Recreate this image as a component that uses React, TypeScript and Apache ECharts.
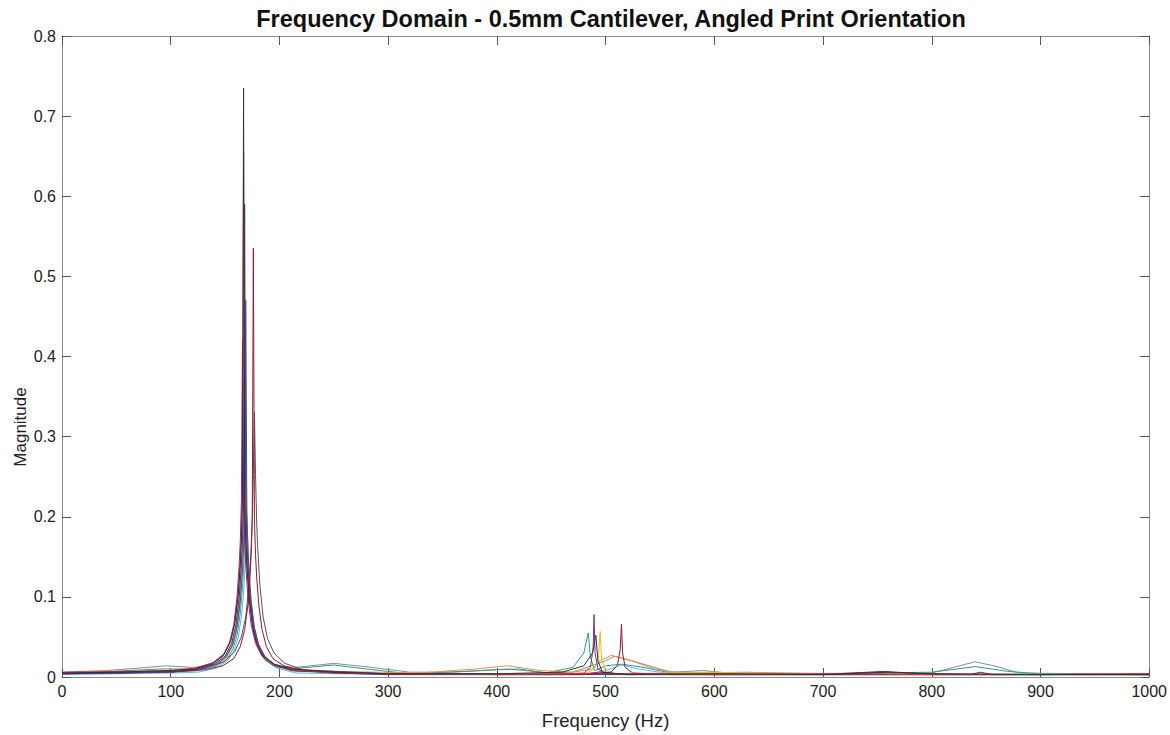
import React, { useEffect, useRef } from "react";
import * as echarts from "echarts";

const TITLE = "Frequency Domain - 0.5mm Cantilever, Angled Print Orientation";
const X_NAME = "Frequency (Hz)";
const Y_NAME = "Magnitude";
const X_TICKS = [0, 100, 200, 300, 400, 500, 600, 700, 800, 900, 1000];
const Y_TICKS = [0, 0.1, 0.2, 0.3, 0.4, 0.5, 0.6, 0.7, 0.8];

// [frequency Hz, magnitude]
const sBlack = [[0,0.005],[50,0.006],[100,0.008],[122,0.01],[139,0.017],[149,0.028],[155,0.044],[159,0.067],[162,0.1],[164,0.14],[165,0.17],[166,0.22],[167,0.735],[168,0.22],[169,0.17],[170,0.14],[172,0.1],[175,0.065],[179,0.042],[185,0.026],[195,0.016],[212,0.01],[250,0.006],[300,0.004],[400,0.004],[460,0.006],[480,0.014],[488,0.03],[491,0.052],[493,0.02],[497,0.006],[520,0.003],[600,0.004],[700,0.003],[760,0.006],[800,0.004],[900,0.003],[1000,0.003]];
const sRed = [[0,0.006],[60,0.007],[100,0.008],[122,0.011],[139,0.018],[149,0.029],[155,0.046],[159,0.07],[162,0.105],[164,0.147],[165,0.179],[166,0.231],[167,0.657],[168,0.231],[169,0.179],[170,0.147],[172,0.105],[175,0.068],[179,0.044],[185,0.027],[195,0.016],[212,0.009],[250,0.005],[300,0.004],[400,0.003],[480,0.004],[494,0.006],[510,0.004],[600,0.003],[700,0.004],[800,0.003],[900,0.003],[1000,0.004]];
const sBlue = [[0,0.004],[60,0.005],[100,0.007],[123,0.009],[140,0.016],[150,0.026],[156,0.042],[160,0.065],[163,0.1],[165,0.14],[166,0.17],[167,0.22],[168,0.59],[169,0.22],[170,0.17],[171,0.14],[173,0.1],[176,0.065],[180,0.042],[186,0.026],[196,0.015],[213,0.008],[250,0.005],[300,0.003],[400,0.003],[480,0.003],[490,0.004],[520,0.003],[600,0.003],[800,0.003],[1000,0.003]];
const sBlue2 = [[0,0.004],[100,0.006],[124,0.008],[141,0.015],[151,0.025],[157,0.04],[161,0.062],[164,0.095],[166,0.133],[167,0.162],[168,0.209],[169,0.47],[170,0.209],[171,0.162],[172,0.133],[174,0.095],[177,0.062],[181,0.04],[187,0.025],[197,0.014],[214,0.008],[300,0.004],[500,0.003],[1000,0.003]];
const sPurple = [[0,0.005],[100,0.006],[121,0.009],[138,0.016],[148,0.026],[154,0.042],[158,0.065],[161,0.1],[163,0.14],[164,0.17],[165,0.22],[166,0.42],[167,0.22],[168,0.17],[169,0.14],[171,0.1],[174,0.065],[178,0.042],[184,0.026],[194,0.015],[211,0.008],[300,0.004],[450,0.003],[480,0.005],[486,0.012],[488.5,0.035],[489.4,0.078],[490.3,0.03],[493,0.01],[500,0.004],[600,0.003],[1000,0.003]];
const sGray = [[0,0.006],[40,0.008],[70,0.011],[95,0.014],[120,0.012],[140,0.014],[150,0.023],[156,0.038],[160,0.059],[163,0.09],[165,0.126],[166,0.153],[167,0.198],[168,0.45],[169,0.198],[170,0.153],[171,0.126],[173,0.09],[176,0.059],[180,0.038],[186,0.023],[196,0.014],[215,0.012],[250,0.017],[285,0.012],[320,0.006],[360,0.006],[410,0.01],[450,0.005],[470,0.006],[500,0.02],[508,0.026],[530,0.018],[560,0.006],[590,0.008],[620,0.004],[700,0.004],[760,0.006],[800,0.005],[820,0.012],[840,0.019],[860,0.013],[880,0.005],[940,0.004],[1000,0.003]];
const sYellow = [[0,0.004],[100,0.006],[124,0.008],[141,0.014],[151,0.023],[157,0.038],[161,0.059],[164,0.09],[166,0.126],[167,0.153],[168,0.198],[169,0.37],[170,0.198],[171,0.153],[172,0.126],[174,0.09],[177,0.059],[181,0.038],[187,0.023],[197,0.013],[214,0.007],[300,0.004],[400,0.003],[480,0.004],[490,0.01],[493.5,0.025],[495,0.057],[496.3,0.022],[500,0.008],[510,0.004],[600,0.006],[640,0.004],[700,0.003],[1000,0.003]];
const sOrange = [[0,0.005],[100,0.008],[123,0.01],[140,0.016],[150,0.025],[156,0.04],[160,0.062],[163,0.095],[165,0.133],[166,0.162],[167,0.209],[168,0.3],[169,0.209],[170,0.162],[171,0.133],[173,0.095],[176,0.062],[180,0.04],[186,0.025],[196,0.014],[213,0.009],[250,0.007],[330,0.005],[380,0.01],[410,0.014],[440,0.008],[470,0.006],[488,0.01],[495,0.02],[505,0.027],[520,0.022],[545,0.01],[570,0.005],[630,0.006],[700,0.004],[1000,0.003]];
const sTeal = [[0,0.004],[90,0.01],[124,0.01],[141,0.013],[151,0.021],[157,0.034],[161,0.052],[164,0.08],[166,0.112],[167,0.136],[168,0.176],[169,0.24],[170,0.176],[171,0.136],[172,0.112],[174,0.08],[177,0.052],[181,0.034],[187,0.021],[197,0.012],[210,0.01],[250,0.015],[280,0.01],[320,0.004],[400,0.009],[420,0.01],[445,0.005],[470,0.012],[480,0.03],[484,0.055],[486,0.025],[490,0.008],[500,0.014],[515,0.016],[535,0.012],[560,0.005],[600,0.005],[700,0.004],[800,0.006],[840,0.013],[870,0.007],[900,0.004],[1000,0.003]];
const sCyan = [[0,0.003],[100,0.005],[125,0.006],[142,0.011],[152,0.02],[158,0.032],[162,0.049],[165,0.075],[167,0.105],[168,0.128],[169,0.165],[170,0.2],[171,0.165],[172,0.128],[173,0.105],[175,0.075],[178,0.049],[182,0.032],[188,0.02],[198,0.011],[215,0.005],[300,0.003],[480,0.003],[500,0.008],[515,0.015],[530,0.01],[560,0.004],[620,0.005],[1000,0.003]];
const sMaroon = [[0,0.005],[60,0.006],[100,0.007],[131,0.009],[148,0.014],[158,0.023],[164,0.038],[168,0.059],[171,0.09],[173,0.126],[174,0.153],[175,0.198],[176,0.535],[177,0.198],[178,0.153],[179,0.126],[181,0.09],[184,0.059],[188,0.038],[194,0.023],[204,0.014],[221,0.008],[260,0.005],[300,0.004],[400,0.003],[480,0.003],[505,0.006],[511,0.015],[513.5,0.035],[514.6,0.066],[515.6,0.03],[518,0.012],[525,0.005],[560,0.003],[600,0.003],[700,0.003],[755,0.007],[790,0.004],[835,0.003],[845,0.006],[855,0.003],[900,0.003],[1000,0.004]];
const sDark = [[0,0.004],[100,0.006],[132,0.011],[149,0.019],[159,0.032],[165,0.05],[169,0.075],[172,0.115],[174,0.161],[175,0.196],[176,0.253],[177,0.33],[178,0.253],[179,0.196],[180,0.161],[182,0.115],[185,0.075],[189,0.048],[195,0.03],[205,0.017],[222,0.009],[300,0.004],[1000,0.003]];

const SERIES = [
  { name: "s1", data: sGray, color: "#8c8c8c" },
  { name: "s2", data: sCyan, color: "#4dbeee" },
  { name: "s3", data: sTeal, color: "#2a9d8f" },
  { name: "s4", data: sOrange, color: "#e8904a" },
  { name: "s5", data: sYellow, color: "#e3c21d" },
  { name: "s6", data: sDark, color: "#555555" },
  { name: "s7", data: sBlue2, color: "#3a52b0" },
  { name: "s8", data: sPurple, color: "#7e2f8e" },
  { name: "s9", data: sBlue, color: "#3a3d9c" },
  { name: "s10", data: sMaroon, color: "#8e1a33" },
  { name: "s11", data: sRed, color: "#e3262a" },
  { name: "s12", data: sBlack, color: "#333333" },
];

const FONT = "Liberation Sans, Arial, sans-serif";

export default function App() {
  const ref = useRef<HTMLDivElement>(null);
  useEffect(() => {
    const chart = echarts.init(ref.current!, null, { renderer: "svg" });
    const axisLine = { show: true, onZero: false, lineStyle: { color: "#8a8a8a", width: 1 } };
    const tick = { show: true, inside: true, length: 9, lineStyle: { color: "#555" } };
    chart.setOption({
      animation: false,
      backgroundColor: "#ffffff",
      title: {
        text: TITLE,
        left: 606,
        top: 2,
        textAlign: "center",
        textStyle: { fontFamily: FONT, fontWeight: "bold", fontSize: 23.5, color: "#111" },
      },
      graphic: [
        {
          type: "text",
          x: 20,
          y: 427,
          rotation: Math.PI / 2,
          style: {
            text: Y_NAME,
            fontFamily: FONT,
            fontSize: 17,
            fill: "#222",
            textAlign: "center",
            textVerticalAlign: "middle",
          },
        },
      ],
      grid: { left: 62, right: 19, top: 36, bottom: 58, containLabel: false },
      xAxis: [
        {
          type: "value",
          min: 0,
          max: 1000,
          interval: 100,
          name: X_NAME,
          nameLocation: "middle",
          nameGap: 34,
          nameTextStyle: { fontFamily: FONT, fontSize: 18.5, color: "#222" },
          axisLine,
          axisTick: tick,
          axisLabel: { fontFamily: FONT, fontSize: 16, color: "#222", margin: 6,
            formatter: (v: number) => (X_TICKS.includes(v) ? String(v) : "") },
          splitLine: { show: false },
        },
        {
          type: "value",
          position: "top",
          min: 0,
          max: 1000,
          interval: 100,
          axisLine,
          axisTick: tick,
          axisLabel: { show: false },
          splitLine: { show: false },
        },
      ],
      yAxis: [
        {
          type: "value",
          min: 0,
          max: 0.8,
          interval: 0.1,
          axisLine,
          axisTick: tick,
          axisLabel: { fontFamily: FONT, fontSize: 16, color: "#222", margin: 6,
            formatter: (v: number) => {
              const r = Math.round(v * 10) / 10;
              return Y_TICKS.includes(r) ? (r === 0 ? "0" : r.toFixed(1)) : "";
            } },
          splitLine: { show: false },
        },
        {
          type: "value",
          position: "right",
          min: 0,
          max: 0.8,
          interval: 0.1,
          axisLine,
          axisTick: tick,
          axisLabel: { show: false },
          splitLine: { show: false },
        },
      ],
      series: SERIES.map((s) => ({
        type: "line",
        name: s.name,
        data: s.data,
        showSymbol: false,
        symbol: "none",
        clip: true,
        lineStyle: { color: s.color, width: 1 },
        itemStyle: { color: s.color },
      })),
    });
    return () => chart.dispose();
  }, []);
  return <div ref={ref} style={{ width: 1170, height: 735, position: "absolute", left: 0, top: 0 }} />;
}
